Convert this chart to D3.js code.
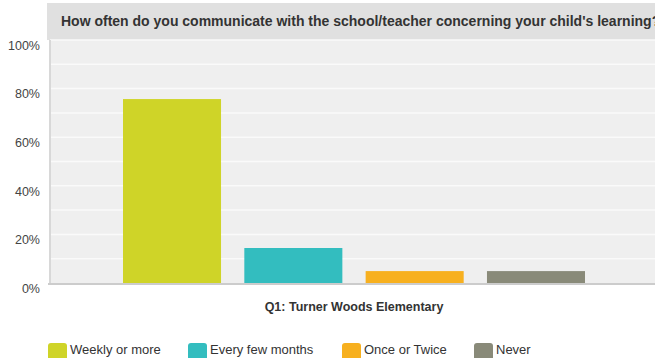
<!DOCTYPE html>
<html>
<head>
<meta charset="utf-8">
<script src="https://cdn.jsdelivr.net/npm/d3@7"></script>
<style>
  body { margin: 0; background: #fff; }
  svg { display: block; font-family: Arial, "Liberation Sans", sans-serif; }
</style>
</head>
<body>
<svg id="chart" width="655" height="358"></svg>
<script>
const title = "How often do you communicate with the school/teacher concerning your child's learning?";
const category = 'Q1: Turner Woods Elementary';
const seriesNames = ['Weekly or more', 'Every few months', 'Once or Twice', 'Never'];
const seriesValues = [75.7, 14.4, 4.9, 4.9];
const seriesColors = ['#cfd428', '#33bdbf', '#f7b01f', '#898a79'];
const yTicks = [0, 20, 40, 60, 80, 100];
const minorTicks = [10, 30, 50, 70, 90];

const svg = d3.select('#chart');
const plot = { left: 50, right: 658, top: 40, bottom: 283 };

// title band
svg.append('rect')
  .attr('x', 47).attr('y', 3)
  .attr('width', 620).attr('height', 37)
  .attr('fill', '#e0e0e0');
svg.append('text')
  .attr('x', 61).attr('y', 25.5)
  .attr('font-size', 14).attr('font-weight', 'bold')
  .attr('fill', '#333')
  .text(title);

// plot background
svg.append('rect')
  .attr('x', plot.left).attr('y', plot.top)
  .attr('width', plot.right - plot.left).attr('height', plot.bottom - plot.top)
  .attr('fill', '#efefef');

const y = d3.scaleLinear().domain([0, 100]).range([plot.bottom, plot.top]);
const x0 = d3.scaleBand().domain([category]).range([plot.left, plot.right]).paddingInner(0).paddingOuter(0.158);
const x1 = d3.scaleBand().domain(seriesNames).range([0, x0.bandwidth()]).paddingInner(0.192).paddingOuter(0);

// gridlines
svg.append('g')
  .selectAll('line')
  .data(yTicks.concat(minorTicks).filter(d => d > 0))
  .join('line')
  .attr('x1', plot.left).attr('x2', plot.right)
  .attr('y1', d => y(d)).attr('y2', d => y(d))
  .attr('stroke', '#fafafa')
  .attr('stroke-width', 1.5);

// y axis labels
const yAxis = d3.axisLeft(y).tickValues(yTicks).tickFormat(d => d + '%').tickSize(0).tickPadding(10);
const yg = svg.append('g').attr('transform', `translate(${plot.left},0)`).call(yAxis);
yg.select('.domain').remove();
yg.selectAll('text')
  .attr('font-size', 12.5)
  .attr('fill', '#444')
  .attr('dy', '0.75em')
  .attr('font-family', 'Arial, "Liberation Sans", sans-serif');

// left axis line
svg.append('line')
  .attr('x1', plot.left).attr('x2', plot.left)
  .attr('y1', plot.top).attr('y2', plot.bottom)
  .attr('stroke', '#d8d8d8').attr('stroke-width', 2);

// bars
svg.append('g')
  .selectAll('rect')
  .data(seriesNames.map((n, i) => ({ name: n, value: seriesValues[i], color: seriesColors[i] })))
  .join('rect')
  .attr('x', d => x0(category) + x1(d.name))
  .attr('y', d => y(d.value))
  .attr('width', x1.bandwidth())
  .attr('height', d => y(0) - y(d.value))
  .attr('fill', d => d.color);

// bottom axis line
svg.append('line')
  .attr('x1', plot.left - 2).attr('x2', plot.right)
  .attr('y1', plot.bottom + 1).attr('y2', plot.bottom + 1)
  .attr('stroke', '#cccccc').attr('stroke-width', 2);

// category label
svg.append('text')
  .attr('x', x0(category) + x0.bandwidth() / 2).attr('y', 311)
  .attr('text-anchor', 'middle')
  .attr('font-size', 12.5).attr('font-weight', 'bold')
  .attr('fill', '#333')
  .text(category);

// legend
const legendX = [48, 188, 342, 474];
const legend = svg.append('g')
  .selectAll('g')
  .data(seriesNames)
  .join('g')
  .attr('transform', (d, i) => `translate(${legendX[i]},343)`);
legend.append('rect')
  .attr('width', 19).attr('height', 19)
  .attr('rx', 3)
  .attr('fill', (d, i) => seriesColors[i]);
legend.append('text')
  .attr('x', 22).attr('y', 10.5)
  .attr('font-size', 13)
  .attr('fill', '#333')
  .text(d => d);
</script>
</body>
</html>
